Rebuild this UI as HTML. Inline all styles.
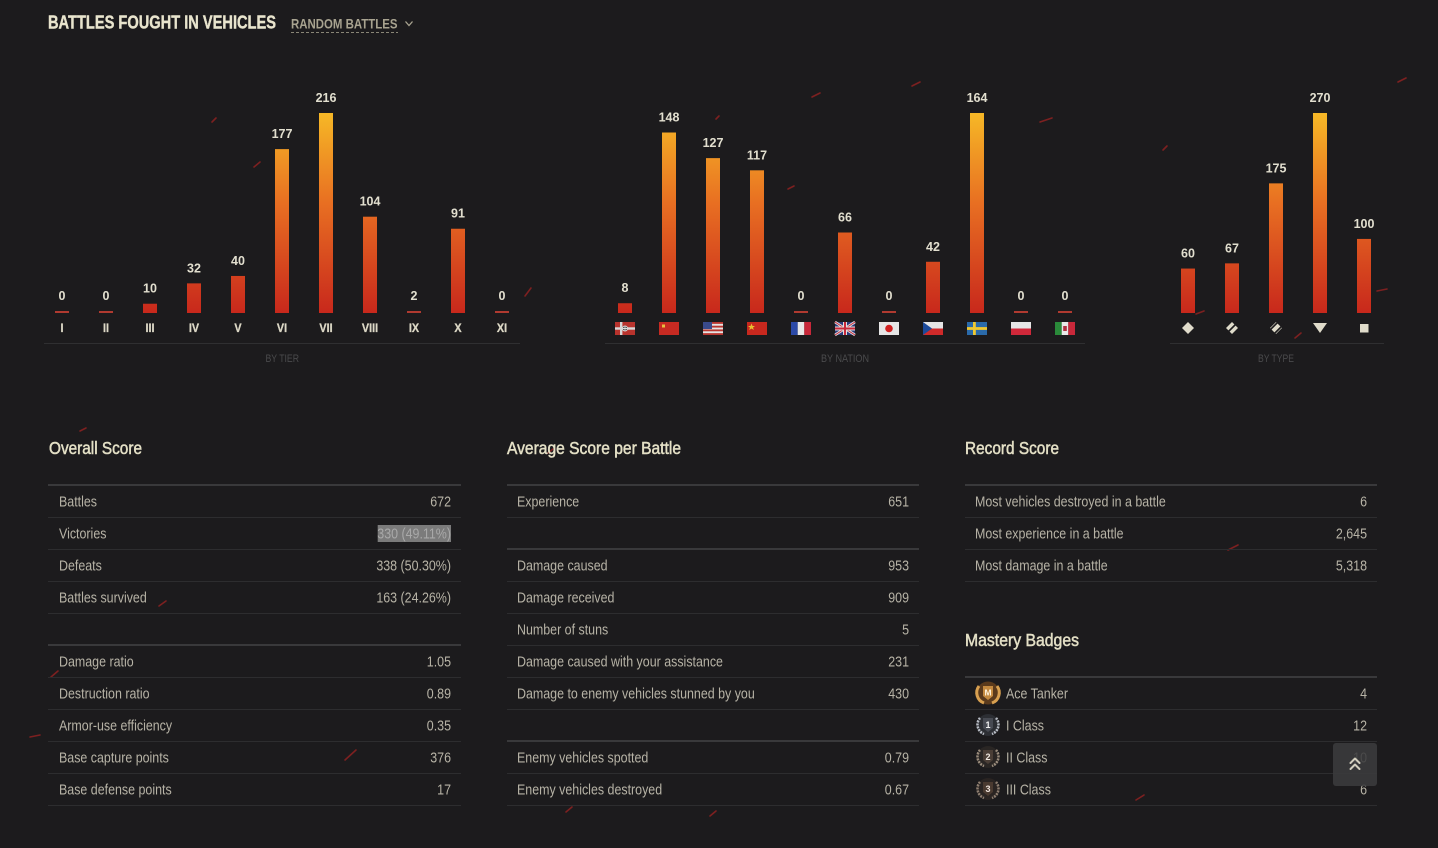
<!DOCTYPE html>
<html><head><meta charset="utf-8"><title>Battles Fought in Vehicles</title>
<style>
html,body{margin:0;padding:0;background:#1c1b1d;}
svg{display:block;}
text{font-family:"Liberation Sans",sans-serif;}
.val{font-size:12.5px;font-weight:bold;fill:#e2dfcf;}
.tick{font-size:12px;font-weight:bold;fill:#dcd8c6;stroke:#dcd8c6;stroke-width:0.3px;}
.cap{font-size:11px;fill:#4a4a4c;}
.hd{font-size:17.5px;fill:#e4e0c6;stroke:#e4e0c6;stroke-width:0.5px;}
.lb{font-size:15px;fill:#b7b3a6;}
.thick{fill:#39393b;}
.thin{fill:#2d2d2f;}
.spark{stroke:#9e2222;stroke-width:1.6;stroke-linecap:round;opacity:.75;}
</style></head>
<body>
<svg width="1438" height="848" viewBox="0 0 1438 848" xmlns="http://www.w3.org/2000/svg">
<defs>
<linearGradient id="bar" gradientUnits="userSpaceOnUse" x1="0" y1="113" x2="0" y2="313">
<stop offset="0" stop-color="#f6b826"/>
<stop offset="0.45" stop-color="#e86f22"/>
<stop offset="1" stop-color="#c8281c"/>
</linearGradient>
</defs>
<rect width="1438" height="848" fill="#1c1b1d"/>

<!-- sparks -->
<g class="spark">
<line x1="212" y1="122" x2="216" y2="118"/>
<line x1="254" y1="167" x2="260" y2="162"/>
<line x1="525" y1="296" x2="531" y2="288"/>
<line x1="716" y1="119" x2="719" y2="116"/>
<line x1="812" y1="97" x2="820" y2="93"/>
<line x1="912" y1="86" x2="920" y2="82"/>
<line x1="1040" y1="122" x2="1052" y2="118"/>
<line x1="1398" y1="82" x2="1406" y2="78"/>
<line x1="788" y1="189" x2="794" y2="186"/>
<line x1="1163" y1="150" x2="1167" y2="146"/>
<line x1="1377" y1="291" x2="1387" y2="289"/>
<line x1="80" y1="431" x2="86" y2="428"/>
<line x1="548" y1="453" x2="553" y2="449"/>
<line x1="159" y1="606" x2="166" y2="601"/>
<line x1="51" y1="677" x2="58" y2="671"/>
<line x1="30" y1="737" x2="40" y2="735"/>
<line x1="345" y1="760" x2="356" y2="750"/>
<line x1="1228" y1="550" x2="1238" y2="545"/>
<line x1="1136" y1="800" x2="1144" y2="795"/>
<line x1="566" y1="812" x2="572" y2="807"/>
<line x1="710" y1="816" x2="716" y2="811"/>
<line x1="1295" y1="338" x2="1301" y2="333"/>
<line x1="1196" y1="314" x2="1204" y2="311"/>
</g>

<!-- Title -->
<text x="48" y="28.3" font-size="18.5" font-weight="bold" fill="#e8e4cd" stroke="#e8e4cd" stroke-width="0.4" textLength="228" lengthAdjust="spacingAndGlyphs">BATTLES FOUGHT IN VEHICLES</text>
<text x="291" y="28.3" font-size="14" font-weight="bold" fill="#a8a390" textLength="106.5" lengthAdjust="spacingAndGlyphs">RANDOM BATTLES</text>
<line x1="291" y1="32.5" x2="398" y2="32.5" stroke="#8a8676" stroke-width="1" stroke-dasharray="3 2"/>
<polyline points="405.5,21.5 409,25.5 412.5,21.5" fill="none" stroke="#a8a390" stroke-width="1.3"/>

<!-- TIER CHART -->
<g>
<rect x="55" y="311" width="14" height="2" fill="#b03a30"/>
<rect x="99" y="311" width="14" height="2" fill="#b03a30"/>
<rect x="143" y="303.74" width="14" height="9.26" fill="url(#bar)"/>
<rect x="187" y="283.37" width="14" height="29.63" fill="url(#bar)"/>
<rect x="231" y="275.96" width="14" height="37.04" fill="url(#bar)"/>
<rect x="275" y="149.11" width="14" height="163.89" fill="url(#bar)"/>
<rect x="319" y="113" width="14" height="200" fill="url(#bar)"/>
<rect x="363" y="216.7" width="14" height="96.3" fill="url(#bar)"/>
<rect x="407" y="311" width="14" height="2" fill="#b03a30"/>
<rect x="451" y="228.74" width="14" height="84.26" fill="url(#bar)"/>
<rect x="495" y="311" width="14" height="2" fill="#b03a30"/>
</g>
<g class="val" text-anchor="middle">
<text x="62" y="300">0</text>
<text x="106" y="300">0</text>
<text x="150" y="292.7">10</text>
<text x="194" y="272.4">32</text>
<text x="238" y="265">40</text>
<text x="282" y="138.1">177</text>
<text x="326" y="102">216</text>
<text x="370" y="205.7">104</text>
<text x="414" y="300">2</text>
<text x="458" y="217.7">91</text>
<text x="502" y="300">0</text>
</g>
<g class="tick" text-anchor="middle">
<text transform="translate(62,332) scale(.9,1)">I</text>
<text transform="translate(106,332) scale(.9,1)">II</text>
<text transform="translate(150,332) scale(.9,1)">III</text>
<text transform="translate(194,332) scale(.9,1)">IV</text>
<text transform="translate(238,332) scale(.9,1)">V</text>
<text transform="translate(282,332) scale(.9,1)">VI</text>
<text transform="translate(326,332) scale(.9,1)">VII</text>
<text transform="translate(370,332) scale(.9,1)">VIII</text>
<text transform="translate(414,332) scale(.9,1)">IX</text>
<text transform="translate(458,332) scale(.9,1)">X</text>
<text transform="translate(502,332) scale(.9,1)">XI</text>
</g>
<rect x="44" y="343" width="476" height="1" fill="#2f2f31"/>
<text class="cap" x="265.5" y="362" textLength="33.5" lengthAdjust="spacingAndGlyphs">BY TIER</text>

<!-- NATION CHART -->
<g>
<rect x="618" y="303.24" width="14" height="9.76" fill="url(#bar)"/>
<rect x="662" y="132.51" width="14" height="180.49" fill="url(#bar)"/>
<rect x="706" y="158.12" width="14" height="154.88" fill="url(#bar)"/>
<rect x="750" y="170.32" width="14" height="142.68" fill="url(#bar)"/>
<rect x="794" y="311" width="14" height="2" fill="#b03a30"/>
<rect x="838" y="232.51" width="14" height="80.49" fill="url(#bar)"/>
<rect x="882" y="311" width="14" height="2" fill="#b03a30"/>
<rect x="926" y="261.78" width="14" height="51.22" fill="url(#bar)"/>
<rect x="970" y="113" width="14" height="200" fill="url(#bar)"/>
<rect x="1014" y="311" width="14" height="2" fill="#b03a30"/>
<rect x="1058" y="311" width="14" height="2" fill="#b03a30"/>
</g>
<g class="val" text-anchor="middle">
<text x="625" y="292.2">8</text>
<text x="669" y="121.5">148</text>
<text x="713" y="147.1">127</text>
<text x="757" y="159.3">117</text>
<text x="801" y="300">0</text>
<text x="845" y="221.5">66</text>
<text x="889" y="300">0</text>
<text x="933" y="250.8">42</text>
<text x="977" y="102">164</text>
<text x="1021" y="300">0</text>
<text x="1065" y="300">0</text>
</g>
<!-- flags -->
<g>
<g transform="translate(615,322)">
<rect width="20" height="13" fill="#b8332d"/>
<rect y="5.3" width="20" height="2.4" fill="#d8d8d8"/>
<rect x="5" width="2.4" height="13" fill="#d8d8d8"/>
<circle cx="10" cy="6.5" r="3" fill="#d8d8d8"/>
<circle cx="10" cy="6.5" r="2" fill="#333"/>
<rect x="9.5" y="4.5" width="1" height="4" fill="#ddd"/>
<rect x="8" y="6" width="4" height="1" fill="#ddd"/>
</g>
<g transform="translate(659,322)">
<rect width="20" height="13" fill="#c62a22"/>
<rect x="3" y="2.5" width="3" height="3" fill="#e8c040"/>
</g>
<g transform="translate(703,322)">
<rect width="20" height="13" fill="#e4e4e4"/>
<rect y="0" width="20" height="1.86" fill="#b8352f"/>
<rect y="3.71" width="20" height="1.86" fill="#b8352f"/>
<rect y="7.43" width="20" height="1.86" fill="#b8352f"/>
<rect y="11.14" width="20" height="1.86" fill="#b8352f"/>
<rect width="9" height="7" fill="#3a4a8a"/>
</g>
<g transform="translate(747,322)">
<rect width="20" height="13" fill="#c8281e"/>
<polygon points="4.5,1.5 5.5,4 8,4 6,5.5 6.8,8 4.5,6.5 2.2,8 3,5.5 1,4 3.5,4" fill="#e8c030"/>
</g>
<g transform="translate(791,322)">
<rect width="6.7" height="13" fill="#2c4aa8"/>
<rect x="6.7" width="6.6" height="13" fill="#e8e8e8"/>
<rect x="13.3" width="6.7" height="13" fill="#c8283a"/>
</g>
<g transform="translate(835,322)">
<rect width="20" height="13" fill="#2a3a7a"/>
<line x1="0" y1="0" x2="20" y2="13" stroke="#e0e0e0" stroke-width="2.6"/>
<line x1="20" y1="0" x2="0" y2="13" stroke="#e0e0e0" stroke-width="2.6"/>
<line x1="0" y1="0" x2="20" y2="13" stroke="#c8283a" stroke-width="1"/>
<line x1="20" y1="0" x2="0" y2="13" stroke="#c8283a" stroke-width="1"/>
<rect x="8" width="4" height="13" fill="#e0e0e0"/>
<rect y="4.5" width="20" height="4" fill="#e0e0e0"/>
<rect x="9" width="2" height="13" fill="#c8283a"/>
<rect y="5.5" width="20" height="2" fill="#c8283a"/>
</g>
<g transform="translate(879,322)">
<rect width="20" height="13" fill="#e6e6e6"/>
<circle cx="10" cy="6.5" r="3.8" fill="#d02020"/>
</g>
<g transform="translate(923,322)">
<rect width="20" height="6.5" fill="#e6e6e6"/>
<rect y="6.5" width="20" height="6.5" fill="#d02a2a"/>
<polygon points="0,0 9,6.5 0,13" fill="#1c4a9a"/>
</g>
<g transform="translate(967,322)">
<rect width="20" height="13" fill="#2a6aaa"/>
<rect x="6" width="2.8" height="13" fill="#f0c830"/>
<rect y="5.1" width="20" height="2.8" fill="#f0c830"/>
</g>
<g transform="translate(1011,322)">
<rect width="20" height="6.5" fill="#e6e6e6"/>
<rect y="6.5" width="20" height="6.5" fill="#d0283a"/>
</g>
<g transform="translate(1055,322)">
<rect width="6.7" height="13" fill="#2a8a3a"/>
<rect x="6.7" width="6.6" height="13" fill="#e8e8e8"/>
<rect x="13.3" width="6.7" height="13" fill="#c8283a"/>
<rect x="8.2" y="4" width="3.6" height="5" fill="#b03040"/>
</g>
</g>
<rect x="605" y="343" width="480" height="1" fill="#2f2f31"/>
<text class="cap" x="821" y="362" textLength="48" lengthAdjust="spacingAndGlyphs">BY NATION</text>

<!-- TYPE CHART -->
<g>
<rect x="1181" y="268.56" width="14" height="44.44" fill="url(#bar)"/>
<rect x="1225" y="263.37" width="14" height="49.63" fill="url(#bar)"/>
<rect x="1269" y="183.37" width="14" height="129.63" fill="url(#bar)"/>
<rect x="1313" y="113" width="14" height="200" fill="url(#bar)"/>
<rect x="1357" y="238.93" width="14" height="74.07" fill="url(#bar)"/>
</g>
<g class="val" text-anchor="middle">
<text x="1188" y="257.6">60</text>
<text x="1232" y="252.4">67</text>
<text x="1276" y="172.4">175</text>
<text x="1320" y="102">270</text>
<text x="1364" y="227.9">100</text>
</g>
<g fill="#e0dccb">
<polygon points="1188,322 1194,328 1188,334 1182,328"/>
<polygon points="1232,322 1238,328 1232,334 1226,328"/>
<polygon points="1276,322 1282,328 1276,334 1270,328"/>
<polygon points="1313,323 1327,323 1320,333"/>
<rect x="1360" y="324" width="8.5" height="8.5"/>
</g>
<g stroke="#1c1b1d" stroke-width="1.6">
<line x1="1226" y1="334" x2="1238" y2="322"/>
<line x1="1268" y1="332" x2="1278" y2="322"/>
<line x1="1274" y1="334" x2="1284" y2="324"/>
</g>
<rect x="1170" y="343" width="214" height="1" fill="#2f2f31"/>
<text class="cap" x="1258" y="362" textLength="36" lengthAdjust="spacingAndGlyphs">BY TYPE</text>

<!-- HEADERS -->
<text class="hd" x="49" y="454" textLength="93" lengthAdjust="spacingAndGlyphs">Overall Score</text>
<text class="hd" x="507" y="454" textLength="174" lengthAdjust="spacingAndGlyphs">Average Score per Battle</text>
<text class="hd" x="965" y="454" textLength="94" lengthAdjust="spacingAndGlyphs">Record Score</text>
<text class="hd" x="965" y="646" textLength="114" lengthAdjust="spacingAndGlyphs">Mastery Badges</text>

<!-- OVERALL TABLE lines -->
<rect class="thick" x="48" y="484" width="413" height="2"/>
<rect class="thin" x="48" y="517" width="413" height="1"/>
<rect class="thin" x="48" y="549" width="413" height="1"/>
<rect class="thin" x="48" y="581" width="413" height="1"/>
<rect class="thin" x="48" y="613" width="413" height="1"/>
<rect class="thick" x="48" y="644" width="413" height="2"/>
<rect class="thin" x="48" y="677" width="413" height="1"/>
<rect class="thin" x="48" y="709" width="413" height="1"/>
<rect class="thin" x="48" y="741" width="413" height="1"/>
<rect class="thin" x="48" y="773" width="413" height="1"/>
<rect class="thin" x="48" y="805" width="413" height="1"/>

<rect x="377.7" y="525" width="73.3" height="17" fill="#7b7b7b"/>

<g class="lb">
<text transform="translate(59,506.5) scale(.83,1)">Battles</text>
<text transform="translate(59,538.5) scale(.83,1)">Victories</text>
<text transform="translate(59,570.5) scale(.83,1)">Defeats</text>
<text transform="translate(59,602.5) scale(.83,1)">Battles survived</text>
<text transform="translate(59,666.5) scale(.83,1)">Damage ratio</text>
<text transform="translate(59,698.5) scale(.83,1)">Destruction ratio</text>
<text transform="translate(59,730.5) scale(.83,1)">Armor-use efficiency</text>
<text transform="translate(59,762.5) scale(.83,1)">Base capture points</text>
<text transform="translate(59,794.5) scale(.83,1)">Base defense points</text>
</g>
<g class="lb" text-anchor="end">
<text transform="translate(451,506.5) scale(.83,1)">672</text>
<text transform="translate(451,538.5) scale(.83,1)" style="fill:#a9a9a9">330 (49.11%)</text>
<text transform="translate(451,570.5) scale(.83,1)">338 (50.30%)</text>
<text transform="translate(451,602.5) scale(.83,1)">163 (24.26%)</text>
<text transform="translate(451,666.5) scale(.83,1)">1.05</text>
<text transform="translate(451,698.5) scale(.83,1)">0.89</text>
<text transform="translate(451,730.5) scale(.83,1)">0.35</text>
<text transform="translate(451,762.5) scale(.83,1)">376</text>
<text transform="translate(451,794.5) scale(.83,1)">17</text>
</g>

<!-- AVERAGE TABLE -->
<rect class="thick" x="507" y="484" width="412" height="2"/>
<rect class="thin" x="507" y="517" width="412" height="1"/>
<rect class="thick" x="507" y="548" width="412" height="2"/>
<rect class="thin" x="507" y="581" width="412" height="1"/>
<rect class="thin" x="507" y="613" width="412" height="1"/>
<rect class="thin" x="507" y="645" width="412" height="1"/>
<rect class="thin" x="507" y="677" width="412" height="1"/>
<rect class="thin" x="507" y="709" width="412" height="1"/>
<rect class="thick" x="507" y="740" width="412" height="2"/>
<rect class="thin" x="507" y="773" width="412" height="1"/>
<rect class="thin" x="507" y="805" width="412" height="1"/>
<g class="lb">
<text transform="translate(517,506.5) scale(.83,1)">Experience</text>
<text transform="translate(517,570.5) scale(.83,1)">Damage caused</text>
<text transform="translate(517,602.5) scale(.83,1)">Damage received</text>
<text transform="translate(517,634.5) scale(.83,1)">Number of stuns</text>
<text transform="translate(517,666.5) scale(.83,1)">Damage caused with your assistance</text>
<text transform="translate(517,698.5) scale(.83,1)">Damage to enemy vehicles stunned by you</text>
<text transform="translate(517,762.5) scale(.83,1)">Enemy vehicles spotted</text>
<text transform="translate(517,794.5) scale(.83,1)">Enemy vehicles destroyed</text>
</g>
<g class="lb" text-anchor="end">
<text transform="translate(909,506.5) scale(.83,1)">651</text>
<text transform="translate(909,570.5) scale(.83,1)">953</text>
<text transform="translate(909,602.5) scale(.83,1)">909</text>
<text transform="translate(909,634.5) scale(.83,1)">5</text>
<text transform="translate(909,666.5) scale(.83,1)">231</text>
<text transform="translate(909,698.5) scale(.83,1)">430</text>
<text transform="translate(909,762.5) scale(.83,1)">0.79</text>
<text transform="translate(909,794.5) scale(.83,1)">0.67</text>
</g>

<!-- RECORD TABLE -->
<rect class="thick" x="965" y="484" width="412" height="2"/>
<rect class="thin" x="965" y="517" width="412" height="1"/>
<rect class="thin" x="965" y="549" width="412" height="1"/>
<rect class="thin" x="965" y="581" width="412" height="1"/>
<g class="lb">
<text transform="translate(975,506.5) scale(.83,1)">Most vehicles destroyed in a battle</text>
<text transform="translate(975,538.5) scale(.83,1)">Most experience in a battle</text>
<text transform="translate(975,570.5) scale(.83,1)">Most damage in a battle</text>
</g>
<g class="lb" text-anchor="end">
<text transform="translate(1367,506.5) scale(.83,1)">6</text>
<text transform="translate(1367,538.5) scale(.83,1)">2,645</text>
<text transform="translate(1367,570.5) scale(.83,1)">5,318</text>
</g>

<!-- MASTERY TABLE -->
<rect class="thick" x="965" y="676" width="412" height="2"/>
<rect class="thin" x="965" y="709" width="412" height="1"/>
<rect class="thin" x="965" y="741" width="412" height="1"/>
<rect class="thin" x="965" y="773" width="412" height="1"/>
<rect class="thin" x="965" y="805" width="412" height="1"/>

<g>
<g transform="translate(988,693)">
<circle r="11.5" fill="#5a3a1c"/>
<path d="M-9,-7 A11,11 0 0 0 -4,10" fill="none" stroke="#d8a050" stroke-width="3"/>
<path d="M9,-7 A11,11 0 0 1 4,10" fill="none" stroke="#d8a050" stroke-width="3"/>
<path d="M-5,-7 H5 V3 L0,7 L-5,3 Z" fill="#c48a40"/>
<text y="2.5" text-anchor="middle" font-size="8.5" font-weight="bold" fill="#fff3dc">M</text>
</g>
<g transform="translate(988,725)">
<circle r="11" fill="#2c2e33"/>
<path d="M-8,-7 A10,10 0 0 0 -4,9" fill="none" stroke="#b8bcc4" stroke-width="2.5" stroke-dasharray="2 1"/>
<path d="M8,-7 A10,10 0 0 1 4,9" fill="none" stroke="#b8bcc4" stroke-width="2.5" stroke-dasharray="2 1"/>
<path d="M-5,-7 H5 V3 L0,7 L-5,3 Z" fill="#474a52"/>
<text y="3" text-anchor="middle" font-size="9" font-weight="bold" fill="#f0f0f0">1</text>
</g>
<g transform="translate(988,757)">
<circle r="11" fill="#2a2624"/>
<path d="M-8,-7 A10,10 0 0 0 -4,9" fill="none" stroke="#9a8c7c" stroke-width="2.5" stroke-dasharray="2 1"/>
<path d="M8,-7 A10,10 0 0 1 4,9" fill="none" stroke="#9a8c7c" stroke-width="2.5" stroke-dasharray="2 1"/>
<path d="M-5,-7 H5 V3 L0,7 L-5,3 Z" fill="#4a3e36"/>
<text y="3" text-anchor="middle" font-size="9" font-weight="bold" fill="#f0e8e0">2</text>
</g>
<g transform="translate(988,789)">
<circle r="11" fill="#2a2422"/>
<path d="M-8,-7 A10,10 0 0 0 -4,9" fill="none" stroke="#8e7e70" stroke-width="2.5" stroke-dasharray="2 1"/>
<path d="M8,-7 A10,10 0 0 1 4,9" fill="none" stroke="#8e7e70" stroke-width="2.5" stroke-dasharray="2 1"/>
<path d="M-5,-7 H5 V3 L0,7 L-5,3 Z" fill="#4a3a30"/>
<text y="3" text-anchor="middle" font-size="9" font-weight="bold" fill="#f0e4dc">3</text>
</g>
</g>
<g class="lb">
<text transform="translate(1006,698.5) scale(.83,1)">Ace Tanker</text>
<text transform="translate(1006,730.5) scale(.83,1)">I Class</text>
<text transform="translate(1006,762.5) scale(.83,1)">II Class</text>
<text transform="translate(1006,794.5) scale(.83,1)">III Class</text>
</g>
<g class="lb" text-anchor="end">
<text transform="translate(1367,698.5) scale(.83,1)">4</text>
<text transform="translate(1367,730.5) scale(.83,1)">12</text>
<text transform="translate(1367,762.5) scale(.83,1)">10</text>
<text transform="translate(1367,794.5) scale(.83,1)">6</text>
</g>

<rect x="1333" y="743" width="44" height="43" rx="3" fill="#3b3b3d" opacity="0.88"/>
<g fill="none" stroke="#d2cebe" stroke-width="2" stroke-linecap="round" stroke-linejoin="round">
<polyline points="1350.5,763 1355,758.5 1359.5,763"/>
<polyline points="1350.5,769 1355,764.5 1359.5,769"/>
</g>
</svg>
</body></html>
